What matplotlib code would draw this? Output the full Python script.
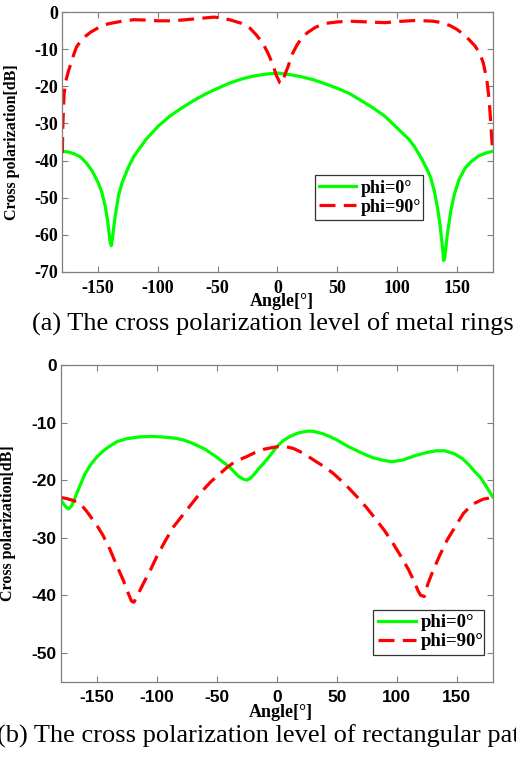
import matplotlib
matplotlib.use("Agg")
from matplotlib import pyplot as plt

plt.rcParams["axes.unicode_minus"] = False

# ---- (a) metal rings ----
a_ang0 = [-180, -175, -170, -165, -160, -155, -150, -147, -144, -142, -140, -139, -138, -136, -133,
          -130, -125, -120, -110, -100, -90, -80, -70, -60, -50, -40, -30, -20, -10,
          0, 10, 20, 30, 40, 50, 60, 70, 80, 90, 100, 110, 115, 120, 125, 128, 131, 134, 136,
          138, 139, 140, 142, 145, 148, 152, 157, 162, 168, 174, 180]
a_phi0 = [-37.5, -37.7, -38.2, -39.0, -40.6, -42.8, -46.0, -48.5, -52.5, -56.5, -62.0, -63.0, -61.0, -55.5, -49.5,
          -46.0, -42.0, -38.8, -34.3, -30.8, -28.0, -25.8, -23.8, -22.0, -20.5, -19.1, -18.0, -17.2, -16.7,
          -16.4, -16.8, -17.4, -18.2, -19.3, -20.5, -21.9, -23.8, -25.8, -28.1, -31.2, -34.3, -36.5, -39.2, -42.3,
          -44.5, -48.0, -53.0, -57.5, -63.5, -67.0, -66.0, -60.0, -53.5, -49.0, -45.0, -42.0, -40.3, -38.8, -38.0, -37.5]

a_ang90 = [-180, -179.5, -178.5, -177, -175, -173, -170, -168, -164, -160, -156, -150, -145, -140, -130,
           -120, -110, -100, -90, -80, -70, -60, -53, -45, -38, -30, -23, -18, -12, -8, -4, -1,
           2, 4, 6, 9, 12, 16, 20, 25, 32, 40, 50, 60, 75, 90, 100, 116, 130, 138, 145, 150, 155,
           160, 165, 169, 172, 175, 177, 178, 179, 180]
a_phi90 = [-38.0, -30.0, -22.0, -18.5, -16.0, -14.0, -11.0, -9.3, -7.5, -6.3, -5.3, -4.2, -3.4, -3.0, -2.4,
           -2.0, -2.1, -2.3, -2.3, -2.1, -1.8, -1.5, -1.3, -1.6, -2.2, -3.0, -4.3, -6.0, -8.5, -11.0, -14.0, -17.0,
           -19.0, -19.2, -17.0, -14.5, -11.5, -9.0, -7.0, -5.5, -4.0, -3.0, -2.6, -2.4, -2.6, -2.8, -2.5, -2.2,
           -2.4, -2.8, -3.7, -4.6, -5.8, -7.3, -9.0, -11.0, -13.5, -18.0, -23.5, -28.0, -33.0, -37.6]

# ---- (b) rectangular patch ----
b_ang0 = [-180, -177, -175, -173.5, -171, -168, -164, -160, -155, -150, -145, -140, -133, -125, -115,
          -105, -95, -85, -78, -70, -60, -50, -42, -38, -32, -28, -25, -22, -18, -15, -11, -5,
          0, 5, 11, 18, 25, 30, 38, 45, 50, 60, 70, 80, 90, 96, 105, 116, 125, 133, 140, 148,
          155, 160, 165, 170, 175, 180]
b_phi0 = [-23.4, -24.3, -24.8, -25.0, -24.5, -23.0, -21.0, -19.0, -17.3, -16.0, -15.0, -14.2, -13.3, -12.8, -12.5,
          -12.4, -12.5, -12.7, -13.0, -13.6, -14.6, -16.0, -17.3, -18.0, -19.3, -19.8, -20.0, -19.7, -18.8, -18.0,
          -17.1, -15.6, -14.2, -13.2, -12.4, -11.8, -11.5, -11.5, -11.9, -12.5, -13.0, -14.2, -15.2, -16.1, -16.6,
          -16.8, -16.5, -15.7, -15.2, -14.9, -14.9, -15.4, -16.3, -17.3, -18.5, -19.6, -21.2, -22.9]

b_ang90 = [-180, -175, -170, -164, -158, -150, -145, -139, -134, -128, -124, -121, -119, -116, -111,
           -105, -100, -93, -86, -75, -64, -55, -42, -35, -25, -18, -10, 0, 8, 14, 22, 33, 40, 47,
           57, 67, 75, 83, 90, 97, 104, 110, 115, 118, 120, 123, 126, 130.5, 136, 142, 149, 155.5,
           163, 172, 180]
b_phi90 = [-23.0, -23.2, -23.5, -24.0, -25.5, -27.8, -29.5, -32.0, -34.5, -37.3, -39.5, -41.0, -41.2, -40.0, -37.9,
           -35.5, -33.3, -30.6, -28.1, -25.2, -22.3, -20.3, -17.9, -16.8, -15.9, -15.2, -14.6, -14.2, -14.2, -14.5,
           -15.3, -16.8, -17.7, -18.8, -20.7, -22.9, -24.8, -26.9, -28.8, -31.0, -33.4, -35.6, -37.8, -39.3, -40.0,
           -40.2, -38.0, -35.6, -33.0, -30.4, -28.0, -25.8, -24.2, -23.3, -23.0]

labels = ["phi=0°", "phi=90°"]
xticks = [-150, -100, -50, 0, 50, 100, 150]

W, H = 516, 759
fig = plt.figure(figsize=(W / 100, H / 100), dpi=100)

serif = "Liberation Serif"
sans = "Liberation Sans"


def style_axes(ax, tickfont, size):
    for s in ax.spines.values():
        s.set_color("#7f7f7f")
        s.set_linewidth(0.9)
    ax.tick_params(direction="in", top=True, right=True, length=4, width=0.8,
                   color="#7f7f7f", labelsize=size)
    ax.tick_params(axis="x", pad=6)
    ax.tick_params(axis="y", pad=3)
    for lab in ax.get_xticklabels() + ax.get_yticklabels():
        lab.set_fontfamily(tickfont)
        lab.set_fontweight("bold")


def draw(ax, x0, y0, x1, y1, ylim, yticks, tickfont, size, legend_box, legsize):
    ax.plot(x0, y0, color="#00ff00", lw=2.3, label=labels[0])
    ax.plot(x1, y1, color="#ff0000", lw=2.3, ls=(0, (5, 2.6)), label=labels[1])
    ax.set_xlim(-180, 180)
    ax.set_ylim(*ylim)
    ax.set_xticks(xticks)
    ax.set_yticks(yticks)
    style_axes(ax, tickfont, size)
    ax.set_xlabel("Angle[°]", fontfamily=serif, fontweight="bold", fontsize=13, va="center")
    ax.set_ylabel("Cross polarization[dB]", fontfamily=serif, fontweight="bold", fontsize=11.5)
    leg = ax.legend(loc="lower left", bbox_to_anchor=legend_box, mode="expand",
                    prop={"family": serif, "weight": "bold", "size": legsize},
                    handlelength=2.0, handletextpad=0.3, borderpad=0.25,
                    labelspacing=0.1, fancybox=False, framealpha=1, borderaxespad=0)
    leg.get_frame().set_edgecolor("#333333")
    leg.get_frame().set_linewidth(0.9)


ax1 = fig.add_axes([62.3 / W, 1 - 271.7 / H, 430.4 / W, 259.4 / H])
draw(ax1, a_ang0, a_phi0, a_ang90, a_phi90, (-70, 0), list(range(-70, 1, 10)),
     serif, 13, (0.587, 0.199, 0.25, 0.167), 13)
ax1.yaxis.set_label_coords(-0.098, 0.5)
ax1.xaxis.set_label_coords(0.51, -0.113)

ax2 = fig.add_axes([60.7 / W, 1 - 681.7 / H, 432 / W, 316.7 / H])
draw(ax2, b_ang0, b_phi0, b_ang90, b_phi90, (-55, 0), list(range(-50, 1, 10)),
     sans, 12.5, (0.724, 0.084, 0.257, 0.134), 13.5)
ax2.yaxis.set_label_coords(-0.103, 0.5)
ax2.xaxis.set_label_coords(0.51, -0.098)

fig.text(32 / W, 1 - 324 / H, "(a) The cross polarization level of metal rings",
         fontfamily=serif, fontsize=19, va="center", ha="left")
fig.text(-3 / W, 1 - 736 / H, "(b) The cross polarization level of rectangular patch",
         fontfamily=serif, fontsize=19, va="center", ha="left")

fig.savefig("out.png", dpi=100)
